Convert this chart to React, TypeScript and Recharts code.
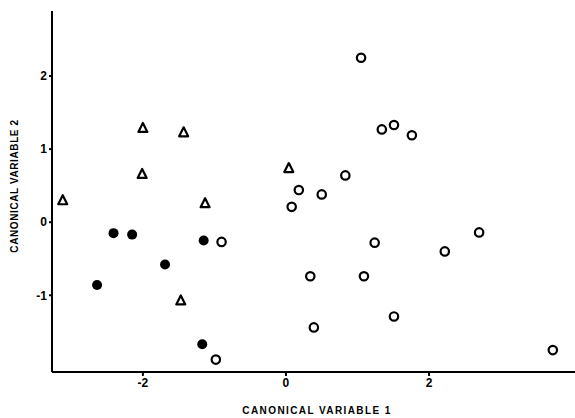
import { ScatterChart, Scatter, XAxis, YAxis, Label } from 'recharts'

// group A: open circles
const openX = [1.05, 1.34, 1.51, 1.76, 0.83, 0.18, 0.5, 0.08, -0.9, -0.98, 1.24, 0.34, 1.09, 0.39, 1.51, 2.22, 2.7, 3.73]
const openY = [2.25, 1.27, 1.33, 1.19, 0.64, 0.44, 0.38, 0.21, -0.27, -1.88, -0.28, -0.74, -0.74, -1.44, -1.29, -0.4, -0.14, -1.75]

// group B: filled circles
const filledX = [-2.41, -2.15, -1.15, -1.69, -2.64, -1.17]
const filledY = [-0.15, -0.17, -0.25, -0.58, -0.86, -1.67]

// group C: triangles
const triX = [-3.12, -2.0, -1.43, -2.01, -1.13, 0.04, -1.47]
const triY = [0.3, 1.29, 1.23, 0.66, 0.26, 0.74, -1.07]

const xTicks = [-2, 0, 2]
const yTicks = [-1, 0, 1, 2]

const toPoints = (xs: number[], ys: number[]) => xs.map((x, i) => ({ x, y: ys[i] }))

const openPts = toPoints(openX, openY)
const filledPts = toPoints(filledX, filledY)
const triPts = toPoints(triX, triY)

const FONT = '"Liberation Sans", Arial, sans-serif'

const OpenCircle = (p: any) => (
  <circle cx={p.cx} cy={p.cy} r={4.2} fill="#fff" stroke="#000" strokeWidth={2.2} />
)

const FilledCircle = (p: any) => <circle cx={p.cx} cy={p.cy} r={5} fill="#000" />

const Triangle = (p: any) => {
  const { cx, cy } = p
  const d = `M${cx},${cy - 5} L${cx + 4.5},${cy + 4} L${cx - 4.5},${cy + 4} Z`
  return <path d={d} fill="#fff" stroke="#000" strokeWidth={2.2} strokeLinejoin="round" />
}

const tickStyle = { fill: '#000', fontSize: 12, fontWeight: 700, fontFamily: FONT }

export default function App() {
  return (
    <div style={{ position: 'absolute', left: 0, top: 0, background: '#fff' }}>
      <ScatterChart width={575} height={418} margin={{ top: 11, right: 0, bottom: 0, left: 0 }}>
        <XAxis
          type="number"
          dataKey="x"
          domain={[-3.27, 4.04]}
          ticks={xTicks}
          allowDataOverflow
          height={46}
          stroke="#000"
          strokeWidth={2}
          tickSize={4}
          tick={tickStyle}
          tickFormatter={(v: number) => (v < 0 ? `-${Math.abs(v)}` : `${v}`)}
        >
          <Label
            content={() => (
              <text
                x={317}
                y={414}
                textAnchor="middle"
                fontSize={10}
                fontWeight={700}
                letterSpacing={1.4}
                fontFamily={FONT}
                fill="#000"
              >
                CANONICAL VARIABLE 1
              </text>
            )}
          />
        </XAxis>
        <YAxis
          type="number"
          dataKey="y"
          domain={[-2.05, 2.89]}
          ticks={yTicks}
          allowDataOverflow
          width={52}
          stroke="#000"
          strokeWidth={2}
          tickSize={3}
          tick={tickStyle}
          tickFormatter={(v: number) => (v < 0 ? `-${Math.abs(v)}` : `${v}`)}
        >
          <Label
            content={() => (
              <text
                x={18}
                y={186}
                transform="rotate(-90 18 186)"
                textAnchor="middle"
                fontSize={10}
                fontWeight={700}
                letterSpacing={0.6}
                fontFamily={FONT}
                fill="#000"
              >
                CANONICAL VARIABLE 2
              </text>
            )}
          />
        </YAxis>
        <Scatter data={openPts} shape={OpenCircle} isAnimationActive={false} />
        <Scatter data={filledPts} shape={FilledCircle} isAnimationActive={false} />
        <Scatter data={triPts} shape={Triangle} isAnimationActive={false} />
      </ScatterChart>
    </div>
  )
}
